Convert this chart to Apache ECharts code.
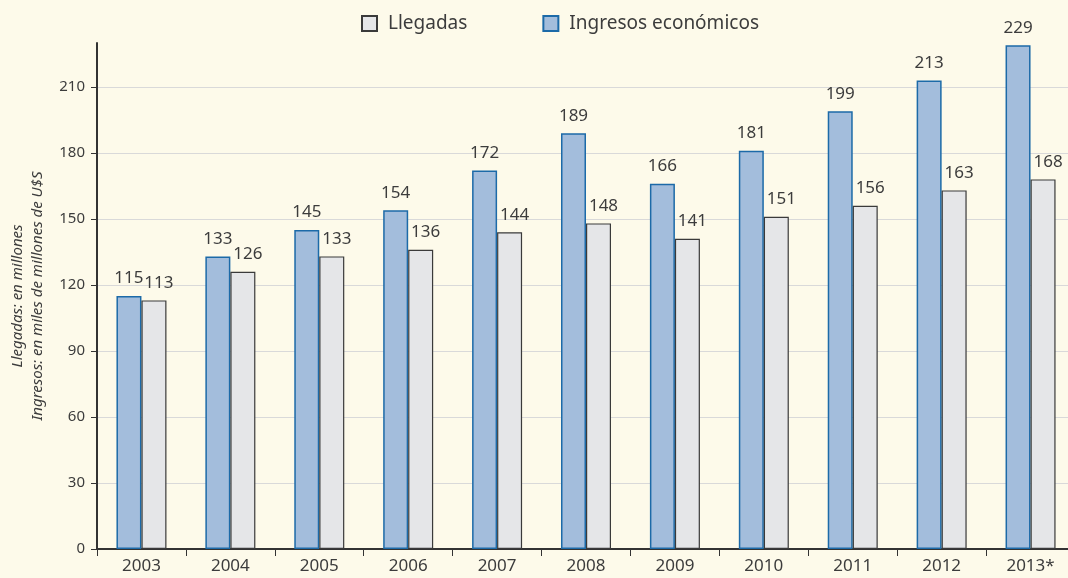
<!DOCTYPE html>
<html>
<head>
<meta charset="utf-8">
<script src="https://cdn.jsdelivr.net/npm/echarts@6/dist/echarts.min.js"></script>
<style>
  html, body { margin: 0; padding: 0; background: #fdfaea; }
  #chart { width: 1068px; height: 578px; }
</style>
</head>
<body>
<div id="chart"></div>
<script>
// data
const years = ['2003', '2004', '2005', '2006', '2007', '2008', '2009', '2010', '2011', '2012', '2013*']
const ingresos = [115, 133, 145, 154, 172, 189, 166, 181, 199, 213, 229]
const llegadas = [113, 126, 133, 136, 144, 148, 141, 151, 156, 163, 168]
const yTicks = [0, 30, 60, 90, 120, 150, 180, 210]

const textColor = '#3c3c3c'
const font = 'Noto Sans'

let chart = echarts.init(document.getElementById('chart'))
chart.setOption({
  backgroundColor: '#fdfaea',
  animation: false,
  textStyle: { fontFamily: font, color: textColor },
  legend: {
    data: ['Llegadas', 'Ingresos económicos'],
    left: 356,
    top: 9,
    itemWidth: 15,
    itemHeight: 15,
    itemGap: 75,
    icon: 'rect',
    textStyle: { fontSize: 19, color: textColor, fontFamily: font, padding: [0, 0, 0, 6] }
  },
  grid: { left: 97, top: 43, bottom: 29, right: -7, outerBoundsMode: 'none', containLabel: false },
  xAxis: {
    type: 'category',
    data: years,
    axisLine: { lineStyle: { color: '#333', width: 2 } },
    axisTick: { show: true, length: 7, lineStyle: { color: '#333', width: 1 } },
    axisLabel: { fontSize: 17, color: textColor, margin: 9 }
  },
  yAxis: {
    type: 'value',
    min: 0,
    max: 230,
    interval: 30,
    name: 'Llegadas: en millones\nIngresos: en miles de millones de U$S',
    nameLocation: 'middle',
    nameGap: 49,
    nameTextStyle: { fontStyle: 'italic', fontSize: 15, color: textColor, lineHeight: 20 },
    axisLine: { show: true, lineStyle: { color: '#333', width: 2 } },
    axisTick: { show: true, length: 6, customValues: yTicks, lineStyle: { color: '#333' } },
    axisLabel: { fontSize: 15, color: textColor, customValues: yTicks, margin: 12 },
    splitLine: { show: true, lineStyle: { color: '#d9d9d9', width: 1 } }
  },
  series: [
    {
      name: 'Ingresos económicos',
      type: 'bar',
      data: ingresos,
      barWidth: 25,
      barGap: '0%',
      itemStyle: { color: '#a3bddc', borderColor: '#1c6aa8', borderWidth: 1.5 },
      label: { show: true, position: 'top', distance: 9, fontSize: 17, color: textColor }
    },
    {
      name: 'Llegadas',
      type: 'bar',
      data: llegadas,
      barWidth: 25,
      itemStyle: { color: '#e5e6e8', borderColor: '#3a3a3a', borderWidth: 1.2 },
      label: { show: true, position: 'top', distance: 9, offset: [5, 0], fontSize: 17, color: textColor }
    }
  ]
})
</script>
</body>
</html>
